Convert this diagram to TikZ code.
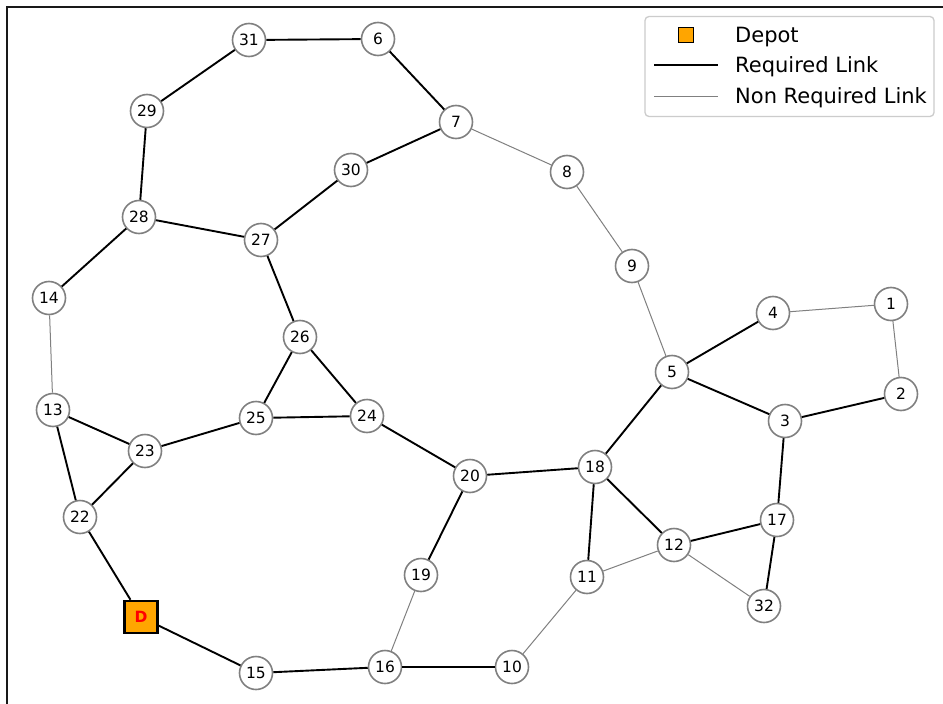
\documentclass[tikz,border=0pt]{standalone}
\usepackage{fontspec}
\setmainfont{DejaVu Sans}
\definecolor{depotorange}{HTML}{FFA500}
\definecolor{ringgray}{HTML}{808080}
\definecolor{legendgray}{HTML}{CCCCCC}
\tikzset{
  vertex/.style={circle, draw=ringgray, line width=1.6pt, fill=white,
    minimum size=33pt, inner sep=0pt, font=\fontsize{15.5}{15.5}\selectfont},
  depot/.style={rectangle, draw=black, line width=2.6pt, fill=depotorange,
    minimum width=33pt, minimum height=32pt, inner sep=0pt,
    text=red, font=\fontsize{15.5}{15.5}\selectfont\bfseries},
  reqlink/.style={draw=black, line width=1.9pt},
  optlink/.style={draw=ringgray, line width=1pt},
  legendtext/.style={anchor=base west, inner sep=0pt, font=\fontsize{21}{21}\selectfont},
}
\begin{document}
\begin{tikzpicture}[x=1pt, y=-1pt]
\useasboundingbox (0,0) rectangle (943,704);
\fill[white] (0,0) rectangle (943,704);

% axes frame (left and top spines)
\draw[line width=2pt, black!90] (7,704) -- (7,7) -- (943,7);

% vertices
\node[vertex] (n31) at (249,40) {31};
\node[vertex] (n6)  at (378,39) {6};
\node[vertex] (n29) at (147,111) {29};
\node[vertex] (n7)  at (456,122) {7};
\node[vertex] (n30) at (351,170) {30};
\node[vertex] (n8)  at (567,172) {8};
\node[vertex] (n28) at (139,217) {28};
\node[vertex] (n27) at (261,240) {27};
\node[vertex] (n9)  at (632,266) {9};
\node[vertex] (n14) at (49,298) {14};
\node[vertex] (n4)  at (773,313) {4};
\node[vertex] (n1)  at (891,304) {1};
\node[vertex] (n26) at (300,337) {26};
\node[vertex] (n5)  at (672,372) {5};
\node[vertex] (n2)  at (901,394) {2};
\node[vertex] (n13) at (53,410) {13};
\node[vertex] (n25) at (256,418) {25};
\node[vertex] (n24) at (367,416) {24};
\node[vertex] (n3)  at (785,421) {3};
\node[vertex] (n23) at (145,451) {23};
\node[vertex] (n20) at (470,476) {20};
\node[vertex] (n18) at (595,467) {18};
\node[vertex] (n22) at (80,517) {22};
\node[vertex] (n17) at (777,520) {17};
\node[vertex] (n12) at (674,545) {12};
\node[vertex] (n19) at (421,575) {19};
\node[vertex] (n11) at (587,577) {11};
\node[vertex] (n32) at (764,606) {32};
\node[vertex] (n15) at (256,673) {15};
\node[vertex] (n16) at (385,667) {16};
\node[vertex] (n10) at (512,667) {10};
\node[depot]  (D)   at (141,617) {D};

% required links
\foreach \a/\b in {n31/n6, n6/n7, n31/n29, n29/n28, n7/n30, n30/n27,
  n28/n27, n28/n14, n27/n26, n26/n25, n26/n24, n25/n24, n25/n23,
  n13/n23, n13/n22, n23/n22, n22/D, D/n15, n15/n16, n16/n10,
  n24/n20, n20/n19, n20/n18, n18/n5, n5/n4, n5/n3, n3/n2, n3/n17,
  n17/n12, n17/n32, n18/n12, n18/n11}
  \draw[reqlink] (\a) -- (\b);

% non-required links
\foreach \a/\b in {n7/n8, n8/n9, n9/n5, n4/n1, n1/n2, n14/n13,
  n19/n16, n11/n10, n11/n12, n12/n32}
  \draw[optlink] (\a) -- (\b);

% legend
\node[draw=legendgray, line width=1.3pt, rounded corners=4pt, fill=white,
  minimum width=289pt, minimum height=100pt, inner sep=0pt]
  (legend) at (789.5,66.5) {};
\node[rectangle, draw=black, line width=1.5pt, fill=depotorange,
  minimum size=15pt, inner sep=0pt] (legdepot) at (686,35) {};
\coordinate (reqA) at (654,65);
\coordinate (reqB) at (718,65);
\coordinate (optA) at (654,96);
\coordinate (optB) at (718,96);
\draw[reqlink] (reqA) -- (reqB);
\draw[optlink] (optA) -- (optB);
\node[legendtext] (ldepot) at (735,42.5) {Depot};
\node[legendtext] (lreq) at (735,72.5) {Required Link};
\node[legendtext] (lopt) at (735,103) {Non Required Link};
\end{tikzpicture}
\end{document}
